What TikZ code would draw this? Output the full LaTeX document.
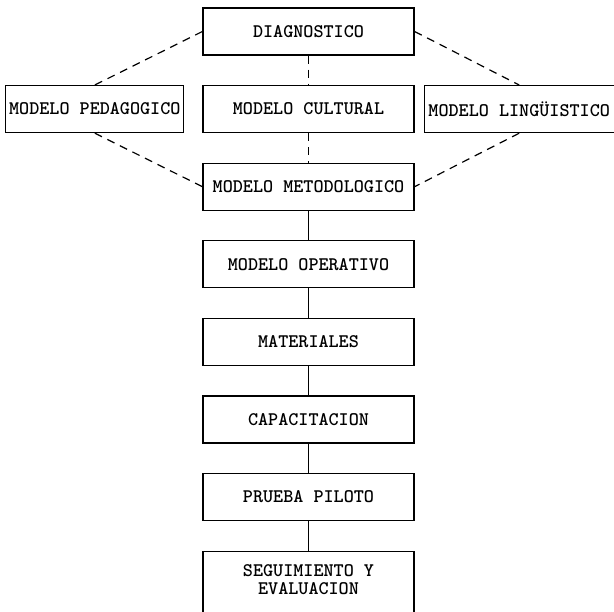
\documentclass[tikz,border=0pt]{standalone}
\usetikzlibrary{positioning}

\begin{document}
\begin{tikzpicture}[x=1pt, y=1pt, node distance=29.4pt,
	box/.style={draw, line width=1.2pt, minimum width=211pt, minimum height=47pt, inner sep=2pt, font=\ttfamily\bfseries\fontsize{19.2}{18}\selectfont},
	dashline/.style={dash pattern=on 8pt off 6pt, line width=1.2pt}]
	\useasboundingbox (0,0) rectangle (614,-612);

	\node[box] (diag) at (308.5,-31.5) {DIAGNOSTICO};
	\node[box, below=of diag] (cult) {MODELO CULTURAL};
	\node[box, left=18pt of cult, minimum width=178pt] (ped) {MODELO PEDAGOGICO};
	\node[box, right=9pt of cult, minimum width=190pt] (ling) {MODELO LINGÜISTICO};
	\node[box, below=of cult] (met) {MODELO METODOLOGICO};
	\node[box, below=of met] (oper) {MODELO OPERATIVO};
	\node[box, below=of oper] (mat) {MATERIALES};
	\node[box, below=of mat] (cap) {CAPACITACION};
	\node[box, below=of cap] (pru) {PRUEBA PILOTO};
	\node[box, below=of pru, align=center, inner ysep=13pt, text depth=60pt] (seg) {SEGUIMIENTO Y\\EVALUACION};

	\draw [dashline]
		(diag.west) edge (ped.north)
		(diag.east) edge (ling.north)
		(ped.south) edge (met.west)
		(ling.south) edge (met.east)
		(diag) edge (cult)
		(cult) edge (met)
		;

	\draw [line width=1.2pt]
		(met) edge (oper)
		(oper) edge (mat)
		(mat) edge (cap)
		(cap) edge (pru)
		(pru) edge (seg)
		;
\end{tikzpicture}
\end{document}
